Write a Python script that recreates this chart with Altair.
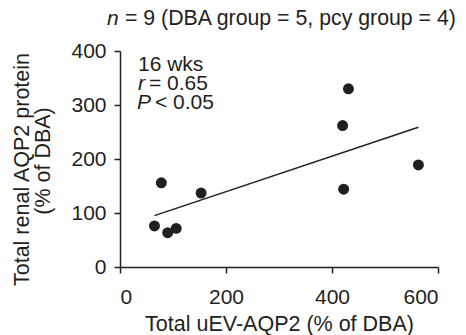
import altair as alt
import pandas as pd

x_vals = [431, 420, 563, 422, 78, 153, 65, 90, 106]
y_vals = [330, 262, 189, 144, 156, 137, 76, 63.5, 71.5]
x_ticks = [0, 200, 400, 600]
y_ticks = [0, 100, 200, 300, 400]
y_title = ["Total renal AQP2 protein", "(% of DBA)"]
x_title = "Total uEV-AQP2 (% of DBA)"

df = pd.DataFrame({"x": x_vals, "y": y_vals})
INK = "#231f20"
FONT = "Liberation Sans"
FS = 21
TFS = 21.5

xs = alt.Scale(domain=[0, 600], nice=False)
ys = alt.Scale(domain=[0, 400], nice=False)

base = alt.Chart(df)

pts = base.mark_circle(size=120, opacity=1, color=INK).encode(
    x=alt.X("x:Q", scale=xs, axis=alt.Axis(
        values=x_ticks, title=x_title, grid=False,
        domainColor=INK, tickColor=INK, labelColor=INK, titleColor=INK,
        labelFont=FONT, titleFont=FONT, labelFontSize=FS, titleFontSize=TFS,
        titleFontWeight="normal", tickSize=6, labelPadding=13, titlePadding=6,
        domainWidth=1.5, tickWidth=1.5)),
    y=alt.Y("y:Q", scale=ys, axis=alt.Axis(
        values=y_ticks, title=None, grid=False,
        domainColor=INK, tickColor=INK, labelColor=INK,
        labelFont=FONT, labelFontSize=FS,
        tickSize=6, labelPadding=8,
        domainWidth=1.5, tickWidth=1.5)),
)

reg = base.transform_regression("x", "y").mark_line(color=INK, strokeWidth=1.5).encode(
    x=alt.X("x:Q", scale=xs), y=alt.Y("y:Q", scale=ys)
)

def txt(s, x, y, italic=False, align="left", size=FS, angle=0):
    return alt.Chart(pd.DataFrame({"t": [s]})).mark_text(
        align=align, baseline="alphabetic", font=FONT, fontSize=size, color=INK,
        fontStyle="italic" if italic else "normal", angle=angle
    ).encode(text="t:N", x=alt.value(x), y=alt.value(y))

annos = [
    txt("n", -13, -26.5, italic=True),
    txt("= 9 (DBA group = 5, pcy group = 4)", 5, -26.5, size=21.3),
    txt("16 wks", 18, 19.5),
    txt("r", 18, 38.5, italic=True),
    txt("= 0.65", 29, 38.5),
    txt("P", 17, 57.5, italic=True),
    txt("< 0.05", 35, 57.5),
    txt(y_title[0], -91.5, 118.5, align="center", size=TFS, angle=270),
    txt(y_title[1], -70, 110, align="center", size=TFS, angle=270),
]

chart = alt.layer(reg, pts, *annos).properties(
    width=318, height=216,
    padding={"left": 112, "top": 43, "right": 20, "bottom": 68},
    autosize=alt.AutoSizeParams(type="none"),
).configure_view(stroke=None)

chart.save("out.html", embed_options={"renderer": "svg", "actions": False})
